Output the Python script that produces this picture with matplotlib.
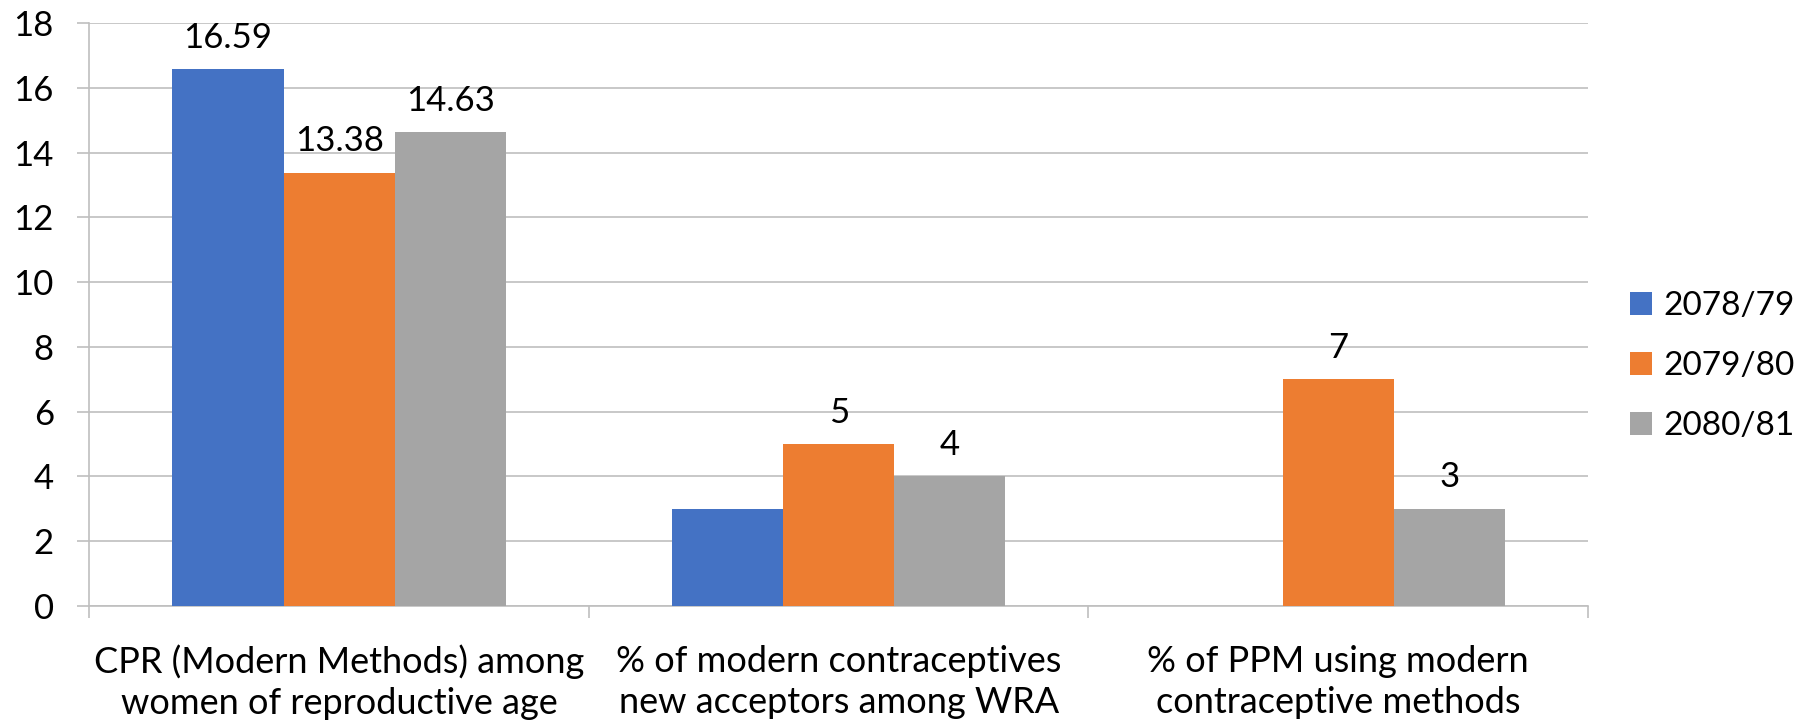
import matplotlib.pyplot as plt
import numpy as np

# categories and series values
categories = [
    "CPR (Modern Methods) among\nwomen of reproductive age",
    "% of modern contraceptives\nnew acceptors among WRA",
    "% of PPM using modern\ncontraceptive methods",
]
years = ["2078/79", "2079/80", "2080/81"]
values = [
    [16.59, 3, 0],
    [13.38, 5, 7],
    [14.63, 4, 3],
]
# data labels as they appear on the chart (None = no label)
labels = [
    ["16.59", None, None],
    ["13.38", "5", "7"],
    ["14.63", "4", "3"],
]
colors = ["#4472C4", "#ED7D31", "#A5A5A5"]
grid_col = "#BFBFBF"

plt.rcParams["font.family"] = ["Lato", "DejaVu Sans"]

fig = plt.figure(figsize=(18.2, 7.26), dpi=100)
ax = fig.add_axes([0.0491, 0.1658, 0.8234, 0.8021])

x = np.arange(len(categories))
w = 0.2225
for i, (yr, vals) in enumerate(zip(years, values)):
    pos = x + (i - 1) * w
    ax.bar(pos, vals, width=w, color=colors[i], label=yr, zorder=3)
    for p, v, lab in zip(pos, vals, labels[i]):
        if lab is not None:
            ax.annotate(lab, (p, v), xytext=(0, 11), textcoords="offset points",
                        ha="center", va="bottom", fontsize=25, color="black")

ax.set_xlim(-0.5, 2.5)
ax.set_ylim(0, 18)
ax.set_yticks(range(0, 19, 2))
ax.yaxis.grid(True, color=grid_col, linewidth=1.2, zorder=0)
ax.tick_params(axis="y", labelsize=25, length=8.6, color=grid_col, width=1.2, pad=17)

ax.set_xticks(x)
ax.set_xticklabels(categories, fontsize=26, linespacing=1.3)
ax.set_xticks([-0.5, 0.5, 1.5, 2.5], minor=True)
ax.tick_params(axis="x", which="major", length=0, pad=28)
ax.tick_params(axis="x", which="minor", length=8.6, color=grid_col, width=1.2)

for s in ["top", "right"]:
    ax.spines[s].set_visible(False)
for s in ["left", "bottom"]:
    ax.spines[s].set_color(grid_col)
    ax.spines[s].set_linewidth(1.2)

ax.legend(loc="center left", bbox_to_anchor=(1630 / 1820, 1 - 366 / 726),
          bbox_transform=fig.transFigure, frameon=False, fontsize=24,
          handlelength=0.66, handleheight=0.66, handletextpad=0.33,
          labelspacing=0.9, borderpad=0, borderaxespad=0)

plt.savefig("out.png", dpi=100)
